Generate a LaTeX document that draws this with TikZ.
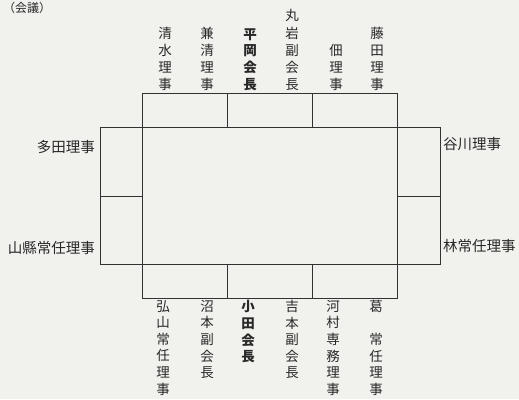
\documentclass[tikz,border=0pt]{standalone}
\usepackage{fontspec}
\newfontfamily\cjk{Noto Sans CJK JP}
\definecolor{paper}{RGB}{241,241,238}
\definecolor{ink}{RGB}{50,50,50}
\definecolor{textink}{RGB}{40,40,40}
\begin{document}
\begin{tikzpicture}[x=1pt,y=-1pt,
  box/.style={draw=ink,line width=1pt,inner sep=0,outer sep=0},
  vlab/.style={text=textink,inner sep=0,align=center,font=\cjk\fontsize{13.5}{17.2}\selectfont},
  blab/.style={text=textink,inner sep=0,align=center,font=\cjk\fontsize{13.5}{16.6}\selectfont},
  hlab/.style={text=textink,inner sep=0,font=\cjk\fontsize{14.5}{16}\selectfont},
  chief/.style={font=\cjk\bfseries\fontsize{13.5}{16.8}\selectfont}]
\fill[paper] (0,0) rectangle (519,399);
\useasboundingbox (0,0) rectangle (519,399);
% caption
\node[hlab,anchor=west,font=\cjk\fontsize{12}{14}\selectfont] (cap) at (3,7.5) {（会議）};
% central table
\node[box,minimum width=255pt,minimum height=137pt] (main) at (269.5,195.5) {};
% top boxes
\node[box,minimum width=85pt,minimum height=34pt] (t1) at (184.75,110) {};
\node[box,minimum width=85pt,minimum height=34pt] (t2) at (269.75,110) {};
\node[box,minimum width=84.5pt,minimum height=34pt] (t3) at (354.75,110) {};
% bottom boxes
\node[box,minimum width=85pt,minimum height=34pt] (b1) at (184.75,281) {};
\node[box,minimum width=85pt,minimum height=34pt] (b2) at (269.75,281) {};
\node[box,minimum width=84.5pt,minimum height=34pt] (b3) at (354.75,281) {};
% side boxes
\node[box,minimum width=42pt,minimum height=69pt] (l1) at (121,161.5) {};
\node[box,minimum width=42pt,minimum height=68pt] (l2) at (121,230) {};
\node[box,minimum width=43pt,minimum height=69pt] (r1) at (418.5,161.5) {};
\node[box,minimum width=43pt,minimum height=68pt] (r2) at (418.5,230) {};
% top labels
\node[vlab,anchor=south] (n1) at (165,91) {清\\水\\理\\事};
\node[vlab,anchor=south] (n2) at (207,91) {兼\\清\\理\\事};
\node[vlab,chief,anchor=south] (n3) at (250,91) {平\\岡\\会\\長};
\node[vlab,anchor=south] (n4) at (292,91) {丸\\岩\\副\\会\\長};
\node[vlab,anchor=south] (n5) at (336,91) {佃\\理\\事};
\node[vlab,anchor=south] (n6) at (377,91) {藤\\田\\理\\事};
% side labels
\node[hlab,anchor=east] (w1) at (95,147) {多田理事};
\node[hlab,anchor=east] (w2) at (95,248) {山縣常任理事};
\node[hlab,anchor=west] (e1) at (443,144) {谷川理事};
\node[hlab,anchor=west] (e2) at (443,246) {林常任理事};
% bottom labels
\node[blab,anchor=north] (s1) at (163,300) {弘\\山\\常\\任\\理\\事};
\node[blab,anchor=north] (s2) at (207,300) {沼\\本\\副\\会\\長};
\node[blab,chief,anchor=north] (s3) at (248,300) {小\\田\\会\\長};
\node[blab,anchor=north] (s4) at (292,300) {吉\\本\\副\\会\\長};
\node[blab,anchor=north] (s5) at (333,300) {河\\村\\専\\務\\理\\事};
\node[blab,anchor=north] (s6) at (376,300) {葛\\\mbox{}\\常\\任\\理\\事};
\end{tikzpicture}
\end{document}
